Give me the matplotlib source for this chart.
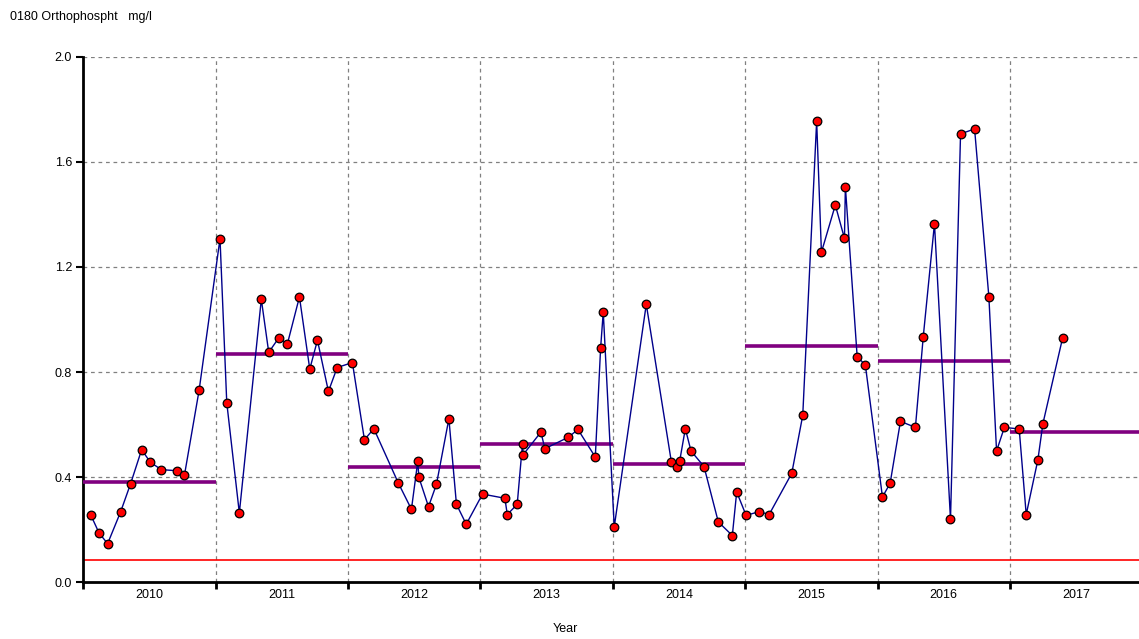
import matplotlib
matplotlib.use("Agg")
import matplotlib.pyplot as plt
from matplotlib.ticker import FixedLocator, NullFormatter

plt.rcParams['font.family'] = ['Liberation Sans', 'DejaVu Sans']

# Sample times (decimal years) and orthophosphate values (mg/l)
sample_time = [
    2010.058, 2010.119, 2010.184, 2010.282, 2010.358, 2010.441, 2010.507, 2010.590,
    2010.706, 2010.764, 2010.875,
    2011.033, 2011.084, 2011.179, 2011.345, 2011.401, 2011.477, 2011.542, 2011.633,
    2011.711, 2011.769, 2011.852, 2011.918,
    2012.033, 2012.124, 2012.195, 2012.381, 2012.479, 2012.527, 2012.535, 2012.608,
    2012.668, 2012.762, 2012.819, 2012.893,
    2013.016, 2013.185, 2013.203, 2013.278, 2013.318, 2013.323, 2013.457, 2013.487,
    2013.663, 2013.737, 2013.868, 2013.908, 2013.928,
    2014.011, 2014.253, 2014.442, 2014.485, 2014.505, 2014.548, 2014.591, 2014.689,
    2014.797, 2014.903, 2014.936,
    2015.007, 2015.107, 2015.181, 2015.352, 2015.435, 2015.540, 2015.576, 2015.681,
    2015.750, 2015.757, 2015.846, 2015.908,
    2016.037, 2016.095, 2016.173, 2016.286, 2016.345, 2016.430, 2016.551, 2016.627,
    2016.733, 2016.841, 2016.899, 2016.958,
    2017.070, 2017.123, 2017.211, 2017.249, 2017.398,
]
sample_value = [
    0.254, 0.187, 0.146, 0.267, 0.375, 0.504, 0.456, 0.428,
    0.424, 0.406, 0.730,
    1.308, 0.683, 0.263, 1.077, 0.875, 0.930, 0.907, 1.086,
    0.811, 0.921, 0.726, 0.817,
    0.836, 0.542, 0.584, 0.376, 0.277, 0.460, 0.399, 0.287,
    0.372, 0.622, 0.296, 0.220,
    0.335, 0.319, 0.257, 0.296, 0.527, 0.485, 0.571, 0.508,
    0.551, 0.581, 0.476, 0.891, 1.029,
    0.210, 1.058, 0.459, 0.437, 0.460, 0.584, 0.499, 0.440,
    0.229, 0.177, 0.343,
    0.254, 0.268, 0.257, 0.414, 0.635, 1.756, 1.256, 1.436,
    1.309, 1.506, 0.859, 0.826,
    0.324, 0.376, 0.612, 0.589, 0.933, 1.365, 0.239, 1.707,
    1.726, 1.086, 0.499, 0.589,
    0.583, 0.257, 0.465, 0.603, 0.930,
]

# Annual means
mean_year = [2010, 2011, 2012, 2013, 2014, 2015, 2016, 2017]
mean_value = [0.381, 0.870, 0.438, 0.525, 0.451, 0.898, 0.842, 0.571]

# Reference level
reference_level = 0.082

year_labels = ['2010', '2011', '2012', '2013', '2014', '2015', '2016', '2017']
y_ticks = [0.0, 0.4, 0.8, 1.2, 1.6, 2.0]

fig = plt.figure(figsize=(11.39, 6.39), dpi=100)
ax = fig.add_axes([0.0731, 0.0892, 0.9269, 0.8216])

ax.set_xlim(2010, 2017.975)
ax.set_ylim(0, 2.0)

# grid
for yv in y_ticks[1:]:
    ax.axhline(yv, color='#808080', linestyle=(0, (3, 3)), linewidth=0.9, zorder=1)
for xv in mean_year[1:]:
    ax.axvline(xv, color='#808080', linestyle=(0, (3, 3)), linewidth=0.9, zorder=1)

ax.axhline(reference_level, color='#ff0000', linewidth=1.2, zorder=2)

for yr, mv in zip(mean_year, mean_value):
    ax.hlines(mv, yr, yr + 1, color='#800080', linewidth=2.6, zorder=3)

ax.plot(sample_time, sample_value, color='#00008b', linewidth=1.0, zorder=4,
        marker='o', markersize=6.2, markerfacecolor='#ff0000',
        markeredgecolor='#000000', markeredgewidth=0.9)

ax.spines['top'].set_visible(False)
ax.spines['right'].set_visible(False)
ax.spines['left'].set_linewidth(2)
ax.spines['bottom'].set_linewidth(2)

ax.set_yticks(y_ticks)
ax.set_yticklabels([f'{v:.1f}' for v in y_ticks])
ax.tick_params(axis='y', length=5, width=1.5, labelsize=9, pad=3)

ax.xaxis.set_major_locator(FixedLocator(mean_year))
ax.xaxis.set_major_formatter(NullFormatter())
ax.xaxis.set_minor_locator(FixedLocator([y + 0.5 for y in mean_year]))
ax.set_xticklabels(year_labels, minor=True)
ax.tick_params(axis='x', which='major', length=5, width=2, direction='out')
ax.tick_params(axis='x', which='minor', length=0, labelsize=9, pad=5)

ax.set_xlabel('Year', fontsize=9)
ax.xaxis.set_label_coords((565 - 83.3) / 1055.7, -(629 - 582) / 525.0)
ax.xaxis.label.set_va('center')

fig.text(10 / 1139, 1 - 17 / 639, '0180 Orthophospht   mg/l', fontsize=9,
         ha='left', va='center')

fig.savefig('out.png', dpi=100)
